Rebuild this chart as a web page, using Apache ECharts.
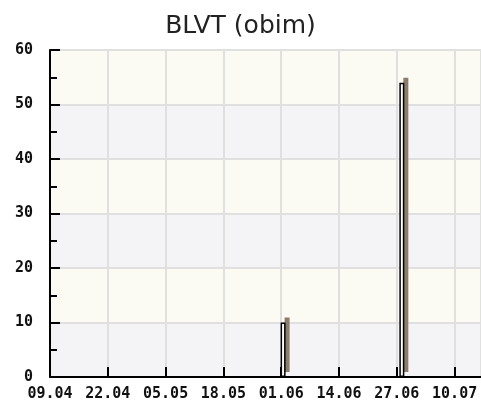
<!DOCTYPE html>
<html>
<head>
<meta charset="utf-8">
<script src="https://cdn.jsdelivr.net/npm/echarts@6/dist/echarts.min.js"></script>
<style>
html,body{margin:0;padding:0;background:#fff;}
#c{width:481px;height:403px;}
</style>
</head>
<body>
<div id="c"></div>
<script>
// ---- data ----
var startDate = "09.04";
var endDays = 98;               // days shown after start (to 16.07)
var tickLabels = ["09.04","22.04","05.05","18.05","01.06","14.06","27.06","10.07"];
var tickSpanDays = 92;          // from first to last tick label
var barDates = ["01.06","28.06"];
var barValues = [10, 54];
var yTicks = [0, 10, 20, 30, 40, 50, 60];

function dayOffset(s) {
  var p = s.split(".");
  var b = startDate.split(".");
  var d0 = Date.UTC(2007, +b[1] - 1, +b[0]);
  var d1 = Date.UTC(2007, +p[1] - 1, +p[0]);
  return Math.round((d1 - d0) / 86400000);
}
var step = tickSpanDays / (tickLabels.length - 1);
var barData = barDates.map(function (d, i) { return [dayOffset(d), barValues[i]]; });

var chart = echarts.init(document.getElementById('c'), null, {renderer: 'canvas'});
var monoFont = '"DejaVu Sans Mono", monospace';
chart.setOption({
  animation: false,
  backgroundColor: '#ffffff',
  title: {
    text: 'BLVT (obim)',
    left: 'center',
    top: 9,
    textStyle: {fontFamily: '"DejaVu Sans", sans-serif', fontSize: 25, fontWeight: 'normal', color: '#222'}
  },
  grid: {left: 50, right: 0, top: 50, bottom: 26, containLabel: false},
  xAxis: {
    type: 'value',
    min: 0,
    max: endDays,
    interval: step,
    axisLine: {show: true, onZero: false, lineStyle: {color: '#000', width: 2}},
    axisTick: {show: true, inside: true, length: 10, lineStyle: {color: '#000', width: 2}},
    axisLabel: {
      showMaxLabel: false,
      margin: 10,
      fontFamily: monoFont, fontSize: 15, fontWeight: 'bold', color: '#111',
      formatter: function (v) {
        var i = Math.round(v / step);
        return Math.abs(v - i * step) < 1e-6 && tickLabels[i] ? tickLabels[i] : '';
      }
    },
    splitLine: {show: true, lineStyle: {color: '#e0e0e0', width: 2}}
  },
  yAxis: {
    type: 'value',
    min: yTicks[0],
    max: yTicks[yTicks.length - 1],
    interval: yTicks[1] - yTicks[0],
    axisLine: {show: true, lineStyle: {color: '#000', width: 2}},
    axisTick: {show: true, inside: true, length: 10, lineStyle: {color: '#000', width: 2}},
    minorTick: {show: true, splitNumber: 2, length: 7, lineStyle: {color: '#000', width: 2}},
    axisLabel: {
      margin: 17,
      fontFamily: monoFont, fontSize: 15, fontWeight: 'bold', color: '#111'
    },
    splitLine: {show: true, lineStyle: {color: '#e0e0e0', width: 2}},
    splitArea: {show: true, areaStyle: {color: ['#f4f4f6', '#fbfbf3']}}
  },
  series: [{
    type: 'bar',
    data: barData,
    barWidth: 5,
    itemStyle: {
      color: '#ffffff',
      borderColor: '#000',
      borderWidth: 1.5,
      shadowColor: '#8b7d6b',
      shadowBlur: 0,
      shadowOffsetX: 4,
      shadowOffsetY: -5
    }
  }]
});
</script>
</body>
</html>
